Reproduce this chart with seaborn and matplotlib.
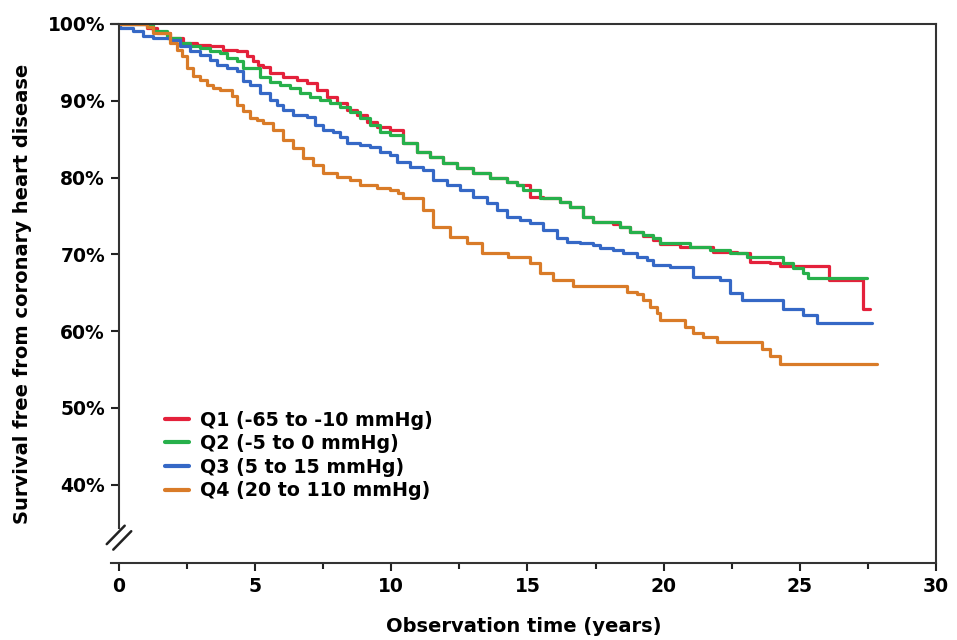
import numpy as np
import pandas as pd
import matplotlib
matplotlib.use("Agg")
import matplotlib.pyplot as plt
import seaborn as sns

# Kaplan-Meier steps: (years, % free of CHD)
q1_steps = [(0, 100), (1.03, 99.5), (1.40, 98.8), (1.87, 98.2), (2.35, 97.5), (2.86, 97.3),
            (3.34, 97.1), (3.82, 96.6), (4.33, 96.5), (4.70, 95.8), (4.92, 95.2), (5.10, 94.7),
            (5.29, 94.4), (5.55, 93.6), (6.02, 93.1), (6.54, 92.7), (6.90, 92.3), (7.27, 91.4),
            (7.64, 90.5), (8.01, 89.7), (8.37, 88.8), (8.74, 88.2), (9.11, 87.2), (9.47, 86.6),
            (9.95, 86.2), (10.43, 84.5), (10.94, 83.3), (11.42, 82.7), (11.90, 81.9), (12.41, 81.3),
            (13.00, 80.6), (13.62, 80.0), (14.25, 79.4), (14.62, 79.0), (15.09, 77.5), (15.57, 77.3),
            (16.20, 76.8), (16.56, 76.2), (17.04, 74.9), (17.41, 74.2), (18.14, 74.0), (18.40, 73.5),
            (18.77, 72.9), (19.24, 72.4), (19.61, 71.9), (19.87, 71.3), (20.60, 71.0), (21.81, 70.3),
            (22.70, 70.2), (23.17, 69.0), (23.90, 68.9), (24.27, 68.5), (26.07, 66.7), (27.32, 62.9),
            (27.58, 62.9)]

q2_steps = [(0, 100), (1.25, 99.1), (1.76, 98.2), (2.24, 97.5), (2.61, 97.1), (2.97, 96.9),
            (3.34, 96.5), (3.71, 96.2), (3.97, 95.6), (4.33, 95.2), (4.55, 94.3), (5.18, 93.1),
            (5.55, 92.5), (5.91, 92.1), (6.28, 91.7), (6.65, 91.0), (7.01, 90.5), (7.38, 90.1),
            (7.75, 89.7), (8.12, 89.2), (8.48, 88.5), (8.85, 87.8), (9.22, 86.9), (9.58, 85.9),
            (9.95, 85.5), (10.43, 84.5), (10.94, 83.3), (11.42, 82.7), (11.90, 81.9), (12.41, 81.3),
            (13.00, 80.6), (13.62, 80.0), (14.25, 79.4), (14.62, 79.0), (14.84, 78.4), (15.46, 77.4),
            (16.20, 76.8), (16.56, 76.2), (17.04, 74.9), (17.41, 74.2), (18.40, 73.6), (18.77, 72.9),
            (19.24, 72.5), (19.61, 72.1), (19.87, 71.5), (20.97, 71.0), (21.70, 70.6), (22.44, 70.2),
            (23.06, 69.7), (24.38, 68.9), (24.75, 68.2), (25.12, 67.6), (25.30, 66.9), (27.47, 66.9)]

q3_steps = [(0, 100), (0.04, 99.5), (0.51, 99.1), (0.88, 98.4), (1.25, 98.2), (1.87, 97.9),
            (2.24, 97.1), (2.61, 96.5), (2.97, 96.0), (3.34, 95.3), (3.60, 94.7), (3.97, 94.3),
            (4.33, 93.9), (4.55, 92.6), (4.81, 92.1), (5.18, 91.0), (5.55, 90.1), (5.80, 89.5),
            (6.02, 88.8), (6.39, 88.2), (6.90, 87.9), (7.20, 86.9), (7.49, 86.2), (7.86, 85.9),
            (8.12, 85.3), (8.37, 84.5), (8.85, 84.3), (9.22, 84.0), (9.58, 83.3), (9.95, 83.0),
            (10.21, 82.0), (10.69, 81.4), (11.16, 81.0), (11.53, 79.7), (12.05, 79.0), (12.52, 78.4),
            (13.00, 77.5), (13.51, 76.7), (13.88, 75.8), (14.25, 74.9), (14.73, 74.5), (15.09, 74.1),
            (15.57, 73.2), (16.09, 72.1), (16.45, 71.6), (16.93, 71.5), (17.41, 71.2), (17.66, 70.8),
            (18.14, 70.6), (18.51, 70.2), (19.02, 69.7), (19.39, 69.3), (19.61, 68.6), (20.23, 68.4),
            (21.08, 67.1), (22.07, 66.7), (22.44, 65.0), (22.88, 64.1), (24.38, 62.9), (25.12, 62.1),
            (25.63, 61.0), (27.65, 61.0)]

q4_steps = [(0, 100), (1.03, 99.6), (1.25, 98.8), (1.87, 97.5), (2.13, 96.6), (2.31, 95.8),
            (2.50, 94.3), (2.72, 93.2), (2.97, 92.7), (3.23, 92.1), (3.45, 91.7), (3.71, 91.4),
            (4.15, 90.6), (4.33, 89.5), (4.55, 88.7), (4.81, 87.8), (5.07, 87.5), (5.29, 87.1),
            (5.66, 86.2), (6.02, 84.9), (6.39, 83.9), (6.76, 82.6), (7.12, 81.6), (7.49, 80.6),
            (8.01, 80.1), (8.48, 79.7), (8.85, 79.0), (9.47, 78.7), (9.95, 78.4), (10.25, 78.0),
            (10.43, 77.4), (11.16, 75.8), (11.53, 73.6), (12.16, 72.3), (12.78, 71.5), (13.33, 70.2),
            (14.29, 69.7), (15.09, 68.9), (15.46, 67.6), (15.94, 66.7), (16.67, 65.9), (18.66, 65.1),
            (19.02, 64.9), (19.24, 64.1), (19.50, 63.2), (19.76, 62.4), (19.87, 61.5), (20.79, 60.5),
            (21.08, 59.8), (21.45, 59.3), (21.96, 58.6), (23.61, 57.7), (23.90, 56.7), (24.27, 55.7),
            (27.84, 55.7)]

labels = ["Q1 (-65 to -10 mmHg)", "Q2 (-5 to 0 mmHg)", "Q3 (5 to 15 mmHg)", "Q4 (20 to 110 mmHg)"]
colors = ["#E4213B", "#27B04B", "#3568C6", "#D97B28"]
y_ticks = [40, 50, 60, 70, 80, 90, 100]
x_ticks = [0, 5, 10, 15, 20, 25, 30]

frames = []
for lab, steps in zip(labels, [q1_steps, q2_steps, q3_steps, q4_steps]):
    d = pd.DataFrame(steps, columns=["years", "survival"])
    d["group"] = lab
    frames.append(d)
df = pd.concat(frames, ignore_index=True)

sns.set_theme(style="white")
plt.rcParams["font.family"] = ["DejaVu Sans"]
plt.rcParams["font.weight"] = "bold"
plt.rcParams["text.color"] = "black"
plt.rcParams["axes.labelcolor"] = "black"
plt.rcParams["xtick.color"] = "black"
plt.rcParams["ytick.color"] = "black"

fig = plt.figure(figsize=(9.57, 6.4), dpi=100)
ax = fig.add_axes([0.1158, 0.1203, 0.978 - 0.1158, 0.9625 - 0.1203])

sns.lineplot(data=df, x="years", y="survival", hue="group", palette=colors,
             estimator=None, sort=False, drawstyle="steps-post", linewidth=2.3, ax=ax)

ax.set_xlim(-0.3, 30)
ax.set_ylim(29.8, 100)
ax.set_xticks(x_ticks)
ax.set_xticks(np.arange(0, 30, 2.5), minor=True)
ax.set_yticks(y_ticks)
ax.set_yticklabels([f"{v}%" for v in y_ticks])
ax.tick_params(axis="both", which="major", direction="out", length=6, width=1.5,
               labelsize=13.5, color="#222222", labelcolor="black", pad=4,
               bottom=True, left=True, top=False, right=False)
ax.tick_params(axis="x", which="minor", direction="out", length=4, width=1.5,
               color="#222222", bottom=True)
for lbl in ax.get_xticklabels() + ax.get_yticklabels():
    lbl.set_fontweight("bold")

for side in ["left", "bottom", "top", "right"]:
    ax.spines[side].set_visible(True)
    ax.spines[side].set_linewidth(1.5)
    ax.spines[side].set_color("#333333")
ax.spines["left"].set_position(("data", 0))
ax.spines["left"].set_bounds(34.3, 100)

# axis break marks on the y axis
for dx in (-0.12, 0.12):
    ax.plot([-0.33 + dx, 0.33 + dx], [31.9 - dx * 3, 34.3 - dx * 3], color="#222222",
            lw=1.8, clip_on=False)

ax.set_xlabel("Observation time (years)", fontsize=14, fontweight="bold",
              color="black", labelpad=15)
ax.set_ylabel("Survival free from coronary heart disease", fontsize=14,
              fontweight="bold", color="black", labelpad=11)

handles, _ = ax.get_legend_handles_labels()
leg = ax.legend(handles, labels, loc="upper left", bbox_to_anchor=(0.056, 0.297),
                frameon=False, fontsize=13.7, handlelength=1.3, handletextpad=0.55,
                labelspacing=0.24, borderaxespad=0)
for t in leg.get_texts():
    t.set_fontweight("bold")
    t.set_color("black")
for h in leg.legend_handles:
    h.set_linewidth(3)

fig.savefig("out.png", dpi=100)
